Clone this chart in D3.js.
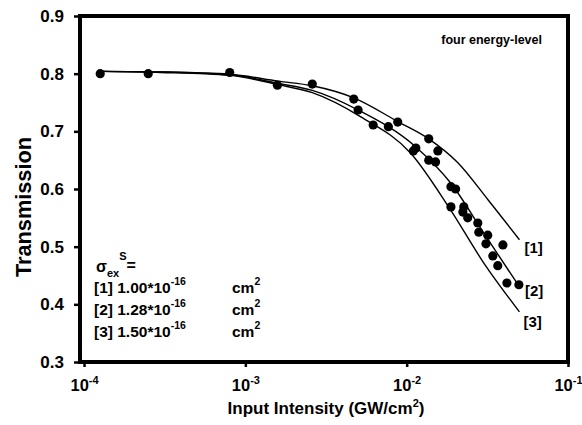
<!DOCTYPE html>
<html>
<head>
<meta charset="utf-8">
<script src="https://cdn.jsdelivr.net/npm/d3@7"></script>
<style>
  body { margin: 0; background: #fff; }
  svg { display: block; font-family: "Liberation Sans", Arial, Helvetica, sans-serif; }
</style>
</head>
<body>
<svg id="chart" width="582" height="425"></svg>
<script>
// Axis ticks
const xTickValues = [1e-4, 1e-3, 1e-2, 1e-1];
const xTickExponents = ["-4", "-3", "-2", "-1"];
const yTickValues = [0.3, 0.4, 0.5, 0.6, 0.7, 0.8, 0.9];

// Measured transmission vs input intensity (GW/cm^2)
const measuredIntensity = [
  1.26e-4, 2.5e-4, 8.0e-4, 1.58e-3, 2.6e-3, 4.7e-3, 5.0e-3, 6.2e-3, 7.7e-3, 8.8e-3,
  1.10e-2, 1.14e-2, 1.37e-2, 1.37e-2, 1.51e-2, 1.56e-2, 1.88e-2, 2.01e-2, 1.88e-2, 2.26e-2,
  2.23e-2, 2.39e-2, 2.76e-2, 2.80e-2, 3.18e-2, 3.10e-2, 3.95e-2, 3.42e-2, 3.67e-2, 4.18e-2,
  4.96e-2
];
const measuredTransmission = [
  0.800, 0.800, 0.802, 0.780, 0.782, 0.756, 0.737, 0.711, 0.708, 0.716,
  0.666, 0.671, 0.687, 0.650, 0.647, 0.666, 0.604, 0.600, 0.569, 0.569,
  0.560, 0.550, 0.541, 0.525, 0.520, 0.505, 0.503, 0.484, 0.467, 0.437,
  0.434
];

// Four energy-level model curves for three excited-state cross sections: [intensity, transmission]
const fit1 = [[1.3e-4, 0.804], [3e-4, 0.803], [8e-4, 0.799], [1.6e-3, 0.787], [2.6e-3, 0.779],
              [4.7e-3, 0.758], [8.8e-3, 0.717], [1.37e-2, 0.687], [2.07e-2, 0.646], [3.2e-2, 0.581], [5.0e-2, 0.512]];
const fit2 = [[1.3e-4, 0.804], [3e-4, 0.803], [8e-4, 0.798], [1.6e-3, 0.783], [2.6e-3, 0.771],
              [5.0e-3, 0.737], [1.14e-2, 0.673], [1.88e-2, 0.610], [3.0e-2, 0.524], [4.9e-2, 0.434]];
const fit3 = [[1.3e-4, 0.804], [3e-4, 0.802], [8e-4, 0.797], [1.6e-3, 0.781], [2.6e-3, 0.767],
              [5.2e-3, 0.725], [1.06e-2, 0.662], [1.82e-2, 0.569], [3.0e-2, 0.472], [5.0e-2, 0.387]];
const fitLabels = ["[1]", "[2]", "[3]"];
const crossSections = ["1.00", "1.28", "1.50"];

const svg = d3.select("#chart");
const plotLeft = 80, plotRight = 568, plotTop = 16, plotBottom = 362;

const x = d3.scaleLog().domain([Math.pow(10, -4.025), 0.1]).range([plotLeft, plotRight]);
const y = d3.scaleLinear().domain([0.3, 0.9]).range([plotBottom, plotTop]);

// Y axis (ticks point outward)
const yAxis = svg.append("g")
  .attr("transform", `translate(${plotLeft},0)`)
  .call(d3.axisLeft(y).tickValues(yTickValues).tickSize(6).tickPadding(10).tickFormat(d3.format(".1f")));
yAxis.select(".domain").remove();
yAxis.selectAll(".tick line").attr("stroke", "#000").attr("stroke-width", 2.5);
yAxis.selectAll(".tick text")
  .attr("fill", "#000").attr("font-size", 17).attr("font-weight", "bold")
  .attr("font-family", "'Liberation Sans', Arial, sans-serif");

// X axis (log decades with superscript exponents)
const xAxis = svg.append("g")
  .attr("transform", `translate(0,${plotBottom})`)
  .call(d3.axisBottom(x).tickValues(xTickValues).tickSize(5).tickFormat(() => ""));
xAxis.select(".domain").remove();
xAxis.selectAll(".tick line").attr("stroke", "#000").attr("stroke-width", 2.5);
xAxis.selectAll(".tick").each(function(d, i) {
  const t = d3.select(this).append("text")
    .attr("y", 29).attr("fill", "#000").attr("text-anchor", "middle")
    .attr("font-size", 16.5).attr("font-weight", "bold")
    .attr("font-family", "'Liberation Sans', Arial, sans-serif");
  t.append("tspan").text("10");
  t.append("tspan").attr("dy", -7).attr("font-size", 11).text(xTickExponents[i]);
});

// Plot frame
svg.append("rect")
  .attr("x", plotLeft).attr("y", plotTop)
  .attr("width", plotRight - plotLeft).attr("height", plotBottom - plotTop)
  .attr("fill", "none").attr("stroke", "#000").attr("stroke-width", 4);

// Model curves
const line = d3.line().x(d => x(d[0])).y(d => y(d[1])).curve(d3.curveMonotoneX);
const fits = [fit1, fit2, fit3];
svg.append("g").selectAll("path").data(fits).join("path")
  .attr("d", line).attr("fill", "none").attr("stroke", "#000").attr("stroke-width", 1.4);

// Curve labels at the right end of each curve
const labelOffsets = [[5, 13], [7, 11], [4, 15]];
svg.append("g").selectAll("text").data(fits).join("text")
  .attr("x", (d, i) => x(d[d.length - 1][0]) + labelOffsets[i][0])
  .attr("y", (d, i) => y(d[d.length - 1][1]) + labelOffsets[i][1])
  .attr("font-size", 15).attr("font-weight", "bold").attr("fill", "#000")
  .text((d, i) => fitLabels[i]);

// Measured points
svg.append("g").selectAll("circle").data(measuredIntensity).join("circle")
  .attr("cx", d => x(d)).attr("cy", (d, i) => y(measuredTransmission[i]))
  .attr("r", 4.6).attr("fill", "#000");

// Model annotation
svg.append("text")
  .attr("x", 542).attr("y", 44).attr("text-anchor", "end")
  .attr("font-size", 12.5).attr("font-weight", "bold").attr("fill", "#000")
  .text("four energy-level");

// Cross-section legend
const legend = svg.append("g").attr("font-weight", "bold").attr("fill", "#000");
const sig = legend.append("text").attr("x", 96).attr("y", 272).attr("font-size", 16);
sig.append("tspan").text("σ");
sig.append("tspan").attr("dy", 5).attr("font-size", 11).text("ex");
sig.append("tspan").attr("dy", -17).attr("font-size", 11).text("S");
sig.append("tspan").attr("dy", 11).attr("font-size", 16).text("=");

crossSections.forEach((v, i) => {
  const t = legend.append("text").attr("x", 94).attr("y", 293 + i * 22).attr("font-size", 15.5);
  t.append("tspan").text(`${fitLabels[i]} ${v}*10`);
  t.append("tspan").attr("dy", -8).attr("font-size", 10.5).text("-16");
  t.append("tspan").attr("x", 232).attr("dy", 8).text("cm");
  t.append("tspan").attr("dy", -8).attr("font-size", 10.5).text("2");
});

// Axis titles
svg.append("text")
  .attr("transform", `translate(31,${(plotTop + plotBottom) / 2 + 18}) rotate(-90)`)
  .attr("text-anchor", "middle").attr("font-size", 22).attr("font-weight", "bold").attr("fill", "#000")
  .attr("textLength", 140).attr("lengthAdjust", "spacingAndGlyphs")
  .text("Transmission");

const xt = svg.append("text")
  .attr("x", 326).attr("y", 414).attr("text-anchor", "middle")
  .attr("font-size", 17).attr("font-weight", "bold").attr("fill", "#000");
xt.append("tspan").text("Input Intensity (GW/cm");
xt.append("tspan").attr("dy", -7).attr("font-size", 11).text("2");
xt.append("tspan").attr("dy", 7).text(")");
</script>
</body>
</html>
